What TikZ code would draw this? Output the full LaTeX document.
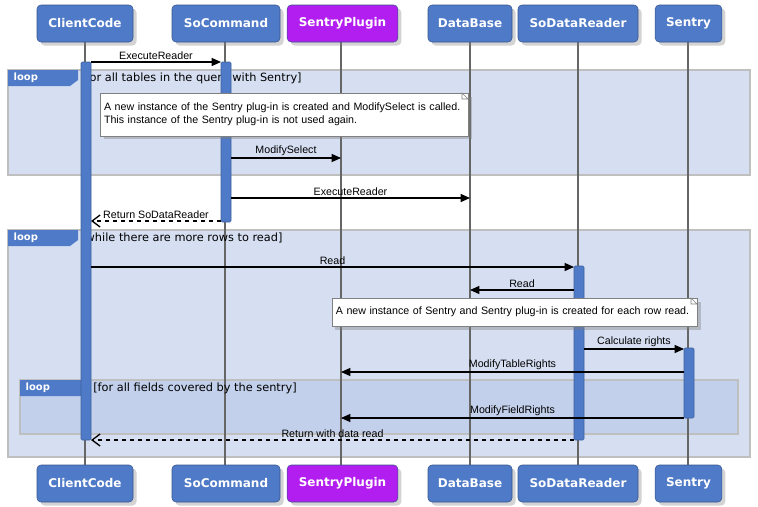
\documentclass[tikz,border=0pt]{standalone}
\usepackage{fontspec}
\setmainfont{Liberation Sans}
\newfontfamily\headfont{DejaVu Sans}
\usetikzlibrary{arrows.meta,shadows}
\definecolor{headblue}{HTML}{4F7AC7}
\definecolor{headviolet}{HTML}{B31EF0}
\definecolor{loopfill}{HTML}{D6DFF2}
\definecolor{innerfill}{HTML}{C2D0EB}
\tikzset{
  head/.style={draw=headblue!70!black, fill=#1, rounded corners=3pt, minimum height=27.75pt,
    text=white, font=\headfont\bfseries\fontsize{9}{11}\selectfont, drop shadow={opacity=0.35}},
  life/.style={draw=black!60, line width=1.2pt},
  bar/.style={fill=headblue, draw=headblue!80!black, rounded corners=1pt},
  frame/.style={draw=black!25, line width=1.5pt, fill=#1},
  tab/.style={fill=headblue, text=white, font=\headfont\bfseries\fontsize{7.5}{9}\selectfont, inner sep=1pt},
  guard/.style={font=\headfont\fontsize{8.5}{10}\selectfont, anchor=west, inner sep=0pt},
  note/.style={draw=black!50, fill=white, drop shadow={opacity=0.4}, align=left,
    font=\fontsize{8}{10}\selectfont, inner ysep=0pt, inner xsep=3pt},
  msg/.style={-{Triangle[length=7pt,width=6pt]}, line width=1pt},
  ret/.style={-{Straight Barb[length=6pt,width=9pt]}, line width=1pt, dashed},
  lbl/.style={font=\fontsize{8}{9}\selectfont, above, inner sep=1pt}
}
\begin{document}
\begin{tikzpicture}[x=0.75pt, y=-0.75pt]
    \useasboundingbox (0,0) rectangle (758,507);
    % Loop frames
    \draw[frame=loopfill] (8,70) rectangle (750,175);
    \draw[frame=loopfill] (8,230) rectangle (750,457);
    \draw[frame=innerfill] (20,380) rectangle (738,434);
    % Lifelines
    \foreach \n/\x in {cc/85, sc/225, sp/341, db/470, sdr/578, se/688} {
      \coordinate (\n-top) at (\x,42);
      \coordinate (\n-bot) at (\x,465);
      \draw[life] (\n-top) -- (\n-bot);
    }
    % Loop tabs
    \fill[headblue] (8,70) -- (78,70) -- (78,80) -- (70,86) -- (8,86) -- cycle;
    \node[tab, anchor=west] (tab1) at (12,78) {loop};
    \node[guard] (g1) at (81,78) {[for all tables in the query with Sentry]};
    \fill[headblue] (8,230) -- (78,230) -- (78,240) -- (70,246) -- (8,246) -- cycle;
    \node[tab, anchor=west] (tab2) at (12,238) {loop};
    \node[guard] (g2) at (81,238) {[while there are more rows to read]};
    \fill[headblue] (20,380) -- (90,380) -- (90,390) -- (82,396) -- (20,396) -- cycle;
    \node[tab, anchor=west] (tab3) at (24,388) {loop};
    \node[guard] (g3) at (93,388) {[for all fields covered by the sentry]};
    % Activation bars
    \draw[bar] (81,62) rectangle (91,440);
    \draw[bar] (221,62) rectangle (231,222);
    \draw[bar] (574,266) rectangle (584,440);
    \draw[bar] (684,348) rectangle (694,418);
    % Notes
    \node[note, text width=270pt, minimum height=32pt] (n1) at (284,114.5)
      {A new instance of the Sentry plug-in is created and ModifySelect is called.\\
       This instance of the Sentry plug-in is not used again.};
    \draw[black!50, fill=white] (462,93) -- (468,99) -- (462,99) -- cycle;
    \node[note, text width=268pt, minimum height=21pt] (n2) at (514.5,312)
      {A new instance of Sentry and Sentry plug-in is created for each row read.};
    \draw[black!50, fill=white] (691,298) -- (697,304) -- (691,304) -- cycle;
    % Message end points
    \coordinate (m1a) at (91,62);   \coordinate (m1b) at (221,62);
    \coordinate (m2a) at (231,158); \coordinate (m2b) at (341,158);
    \coordinate (m3a) at (231,198); \coordinate (m3b) at (470,198);
    \coordinate (m4a) at (221,221); \coordinate (m4b) at (91,221);
    \coordinate (m5a) at (91,267);  \coordinate (m5b) at (574,267);
    \coordinate (m6a) at (574,290); \coordinate (m6b) at (470,290);
    \coordinate (m7a) at (584,349); \coordinate (m7b) at (684,349);
    \coordinate (m8a) at (684,372); \coordinate (m8b) at (341,372);
    \coordinate (m9a) at (684,418); \coordinate (m9b) at (341,418);
    \coordinate (m10a) at (574,440); \coordinate (m10b) at (91,440);
    % Messages
    \draw[msg] (m1a) -- (m1b) node[lbl, midway] {ExecuteReader};
    \draw[msg] (m2a) -- (m2b) node[lbl, midway] {ModifySelect};
    \draw[msg] (m3a) -- (m3b) node[lbl, midway] {ExecuteReader};
    \draw[ret] (m4a) -- (m4b) node[lbl, midway] {Return SoDataReader};
    \draw[msg] (m5a) -- (m5b) node[lbl, midway] {Read};
    \draw[msg] (m6a) -- (m6b) node[lbl, midway] {Read};
    \draw[msg] (m7a) -- (m7b) node[lbl, midway] {Calculate rights};
    \draw[msg] (m8a) -- (m8b) node[lbl, midway] {ModifyTableRights};
    \draw[msg] (m9a) -- (m9b) node[lbl, midway] {ModifyFieldRights};
    \draw[ret] (m10a) -- (m10b) node[lbl, midway] {Return with data read};
    % Heads
    \foreach \n/\x/\w/\c/\t in {cc/85/72/headblue/ClientCode, sc/226/81/headblue/SoCommand,
        sp/342.5/83/headviolet/SentryPlugin, db/470/63/headblue/DataBase,
        sdr/578/90/headblue/SoDataReader, se/688.5/50/headblue/Sentry} {
      \node[head=\c, minimum width=\w pt] (\n-h1) at (\x,23.5) {\t};
      \node[head=\c, minimum width=\w pt] (\n-h2) at (\x,483.5) {\t};
    }
\end{tikzpicture}
\end{document}
